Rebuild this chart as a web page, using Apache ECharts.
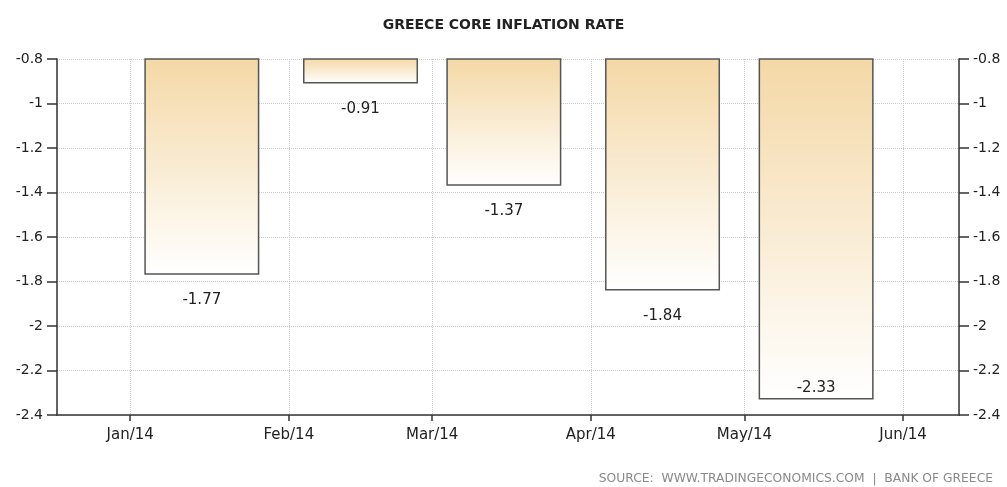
<!DOCTYPE html>
<html>
<head>
<meta charset="utf-8">
<script src="https://cdn.jsdelivr.net/npm/echarts@6/dist/echarts.min.js"></script>
<style>
html,body{margin:0;padding:0;background:#fff;}
#chart{width:1007px;height:487px;}
</style>
</head>
<body>
<div id="chart"></div>
<script>
// Data
const dates = [[2014,0,15],[2014,1,15],[2014,2,15],[2014,3,15],[2014,4,15]];
const values = [-1.77, -0.91, -1.37, -1.84, -2.33];
const monthNames = ['Jan','Feb','Mar','Apr','May','Jun','Jul','Aug','Sep','Oct','Nov','Dec'];
const yMin = -2.4, yMax = -0.8, yStep = 0.2;
const xStart = [2013,11,17,17];
const xEnd = [2014,5,11,22];
const titleText = 'GREECE CORE INFLATION RATE';
const sourceText = 'SOURCE:  WWW.TRADINGECONOMICS.COM  |  BANK OF GREECE';

const FONT = 'DejaVu Sans';
const TEXT = '#222';
const ts = a => new Date(a[0], a[1], a[2], a[3] || 0).getTime();

const GRID = {left: 57, right: 48, top: 59, bottom: 72};
const BAR_W = 115;
const plotW = 1007 - GRID.left - GRID.right;
// ECharts widens a bar chart's base-axis extent to fit the bar width; pre-shrink so the final extent is the desired one
const dMin = ts(xStart), dMax = ts(xEnd);
const shrink = (dMax - dMin) * (BAR_W / plotW) / 2;

const grad = {
  type: 'linear', x: 0, y: 0, x2: 0, y2: 1,
  colorStops: [{offset: 0, color: '#F4D8A6'}, {offset: 1, color: '#FFFFFF'}]
};

const seriesData = dates.map((d, i) => {
  const item = {value: [ts(d), values[i]]};
  if (values[i] - yMin < 0.15) {
    item.label = {position: 'insideBottom', distance: 4};
  }
  return item;
});

const yAxisCommon = {
  type: 'value', min: yMin, max: yMax, interval: yStep,
  axisLine: {show: true, lineStyle: {color: '#333', width: 1.5}},
  axisTick: {show: true, length: 10, lineStyle: {color: '#333', width: 1.5}},
  axisLabel: {color: TEXT, fontFamily: FONT, fontSize: 14, margin: 14,
    formatter: v => String(Math.round(v * 10) / 10)}
};

const chart = echarts.init(document.getElementById('chart'), null, {renderer: 'canvas'});
chart.setOption({
  animation: false,
  backgroundColor: '#fff',
  title: {
    text: titleText, left: 'center', top: 13,
    textStyle: {fontFamily: FONT, fontSize: 14, fontWeight: 'bold', color: '#222'}
  },
  graphic: [{
    type: 'text', right: 14, top: 473,
    style: {text: sourceText, fontFamily: FONT, fontSize: 12.3, fill: '#8a8a8a'}
  }],
  grid: Object.assign({containLabel: false}, GRID),
  xAxis: {
    type: 'time', min: dMin + shrink, max: dMax - shrink,
    axisLine: {show: true, onZero: false, lineStyle: {color: '#333', width: 1.5}},
    axisTick: {show: true, length: 6, lineStyle: {color: '#333', width: 1.5}},
    axisLabel: {
      color: TEXT, fontFamily: FONT, fontSize: 15, fontWeight: 'normal', margin: 13,
      showMinLabel: false, showMaxLabel: false,
      formatter: v => { const d = new Date(v); return monthNames[d.getMonth()] + '/' + String(d.getFullYear()).slice(2); }
    },
    splitLine: {show: true, lineStyle: {color: '#ccc', type: 'dotted', width: 1}},
    minorTick: {show: false}
  },
  yAxis: [
    Object.assign({}, yAxisCommon, {position: 'left',
      splitLine: {show: true, lineStyle: {color: '#ccc', type: 'dotted', width: 1}}}),
    Object.assign({}, yAxisCommon, {position: 'right', splitLine: {show: false}})
  ],
  series: [{
    type: 'bar',
    yAxisIndex: 0,
    data: seriesData,
    barWidth: BAR_W,
    clip: true,
    itemStyle: {color: grad, borderColor: '#555', borderWidth: 1.5},
    label: {show: true, position: 'bottom', distance: 18, color: TEXT,
      fontFamily: FONT, fontSize: 15, formatter: p => p.value[1].toFixed(2)}
  }]
});
</script>
</body>
</html>
